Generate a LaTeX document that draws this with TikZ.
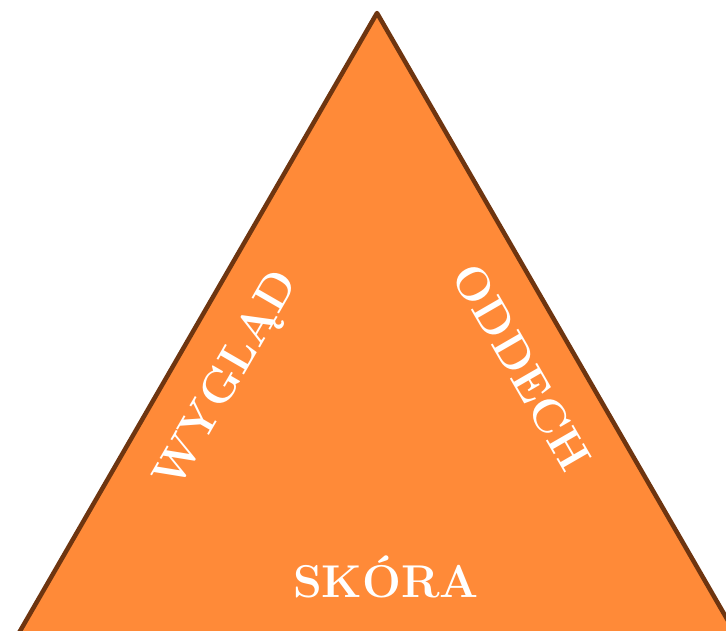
\documentclass[tikz,border=0pt]{standalone}
\usepackage{fontspec}
\usepackage{tikz}
\usepackage{xcolor}
\usetikzlibrary{positioning, calc}
\definecolor{fillorange}{HTML}{FF8A38}
\definecolor{edgebrown}{HTML}{6E3510}

\begin{document}
\begin{tikzpicture}[
    x=1pt, y=-1pt,
    side/.style={draw=edgebrown, fill=fillorange, line width=4.5pt, line join=round},
    word/.style={text=white, font=\fontsize{46}{52}\selectfont\bfseries, inner sep=0pt}
  ]
    \useasboundingbox (0,0) rectangle (726,630);
    \clip (0,0) rectangle (726,630);
    % corners of the triangle, base below the page
    \coordinate (top) at (377,13);
    \coordinate (left) at (-25,709);
    \coordinate (right) at (779,709);
    \draw[side] (top) -- (right) -- (left) -- cycle;

    \node[word, rotate=60] (look) at (228,381) {WYGLĄD};
    \node[word, rotate=-60] (breath) at (522,367) {ODDECH};
    \node[word, anchor=base] (skin) at (386,597) {SKÓRA};
  \end{tikzpicture}
\end{document}
